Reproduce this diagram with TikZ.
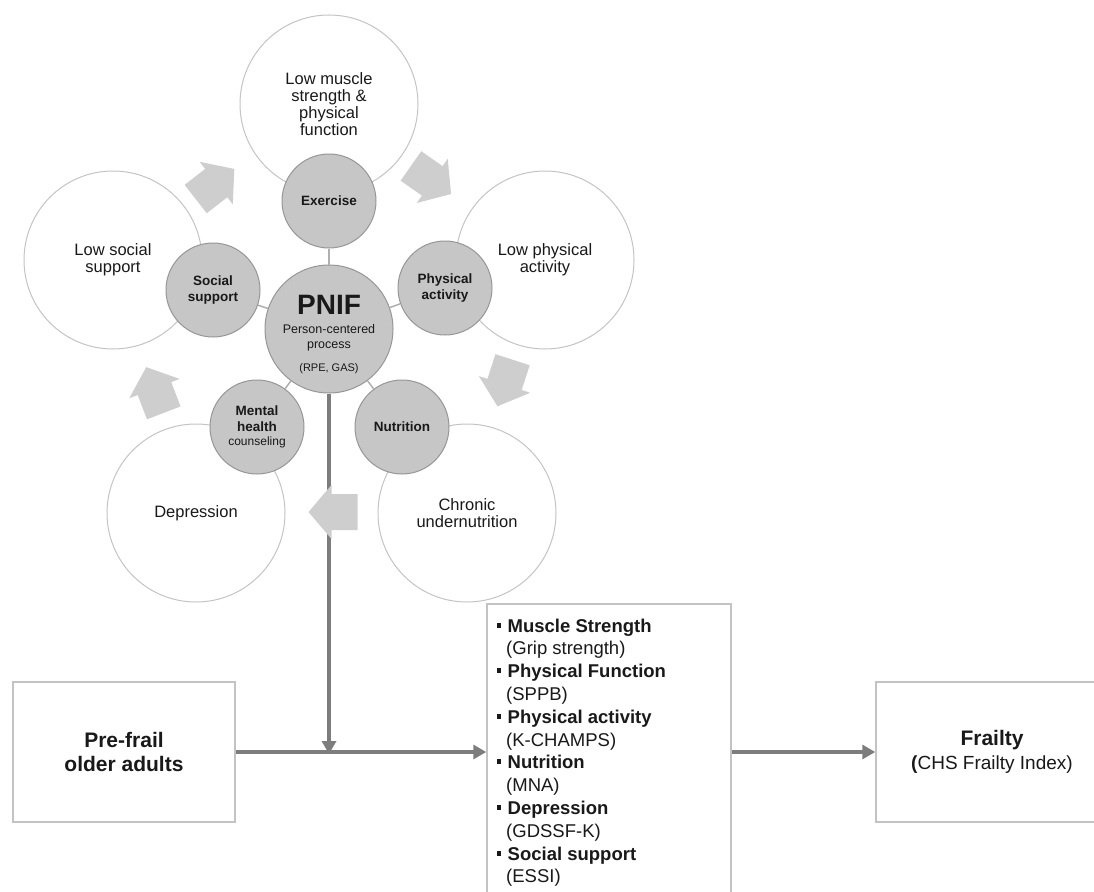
\documentclass[tikz,border=0pt]{standalone}
\usepackage{fontspec}
\setmainfont{Liberation Sans}
\usetikzlibrary{arrows.meta}
\definecolor{bigline}{RGB}{196,196,196}
\definecolor{smline}{RGB}{150,150,150}
\definecolor{smfill}{RGB}{198,198,198}
\definecolor{spokec}{RGB}{175,175,175}
\definecolor{flowc}{RGB}{125,125,125}
\definecolor{boxc}{RGB}{195,195,195}
\definecolor{blkc}{RGB}{206,206,206}
\definecolor{txt}{RGB}{25,25,25}
\tikzset{
  blockarrow/.pic={\fill[blkc] (-24.5,-18) -- (1.5,-18) -- (1.5,-27) -- (24.5,0) -- (1.5,27) -- (1.5,18) -- (-24.5,18) -- cycle;}
}
\newcommand{\sqbul}{\rule[4.5pt]{3.5pt}{5pt}\hspace{7pt}}
\begin{document}
\begin{tikzpicture}[x=1pt,y=-1pt,
  every node/.style={text=txt},
  bigc/.style={circle, draw=bigline, line width=1pt, fill=white, inner sep=0pt, minimum size=178pt, align=center, font=\fontsize{16.5}{17}\selectfont},
  smallc/.style={circle, draw=smline, line width=1pt, fill=smfill, inner sep=0pt, minimum size=94pt, align=center, font=\bfseries\fontsize{13.5}{15.5}\selectfont},
  spoke/.style={draw=spokec, line width=1.5pt},
  flow/.style={draw=flowc, line width=3.8pt, -{Triangle[length=13pt,width=14pt]}},
  box/.style={draw=boxc, line width=1.5pt, fill=white, inner sep=0pt, align=center},
  meastxt/.style={anchor=base west, inner sep=0pt, font=\fontsize{18.5}{22}\selectfont}
]
\useasboundingbox (0,0) rectangle (1094,891);

% big circles
\node[bigc] (lowmus) at (329,104) {Low muscle\\strength \&\\physical\\function};
\node[bigc] (lowpa) at (545,260) {Low physical\\activity};
\node[bigc] (lowsoc) at (113,260) {Low social\\support};
\node[bigc] (dep) at (196,513) {Depression};
\node[bigc] (chron) at (467,513) {Chronic\\undernutrition};

% centre and small circles
\node[circle, draw=smline, line width=1pt, fill=smfill, inner sep=0pt, minimum size=128pt] (pnif) at (329,329) {};
\node[smallc] (ex) at (329,201) {Exercise};
\node[smallc] (pa) at (445,288) {Physical\\activity};
\node[smallc] (ss) at (213,290) {Social\\support};
\node[smallc, font=\bfseries\fontsize{13.5}{16}\selectfont] (mh) at (257,427) {Mental\\health\\[-2pt]{\mdseries\fontsize{12}{13}\selectfont counseling}};
\node[smallc] (nu) at (402,427) {Nutrition};

\draw[spoke] (pnif) -- (ex);
\draw[spoke] (pnif) -- (pa);
\draw[spoke] (pnif) -- (ss);
\draw[spoke] (pnif) -- (mh);
\draw[spoke] (pnif) -- (nu);

\node[anchor=base, inner sep=0pt, font=\bfseries\fontsize{28}{30}\selectfont] (pniftitle) at (329,314) {PNIF};
\node[anchor=base, inner sep=0pt, font=\fontsize{12.5}{14}\selectfont] (pnifa) at (329,333) {Person-centered};
\node[anchor=base, inner sep=0pt, font=\fontsize{12.5}{14}\selectfont] (pnifb) at (329,348) {process};
\node[anchor=base, inner sep=0pt, font=\fontsize{11}{13}\selectfont] (pnifc) at (329,371) {(RPE, GAS)};

% boxes
\node[box, minimum width=222pt, minimum height=140pt, font=\bfseries\fontsize{21}{23.5}\selectfont] (pre) at (124,752) {Pre-frail\\older adults};
\node[box, minimum width=244pt, minimum height=296pt] (meas) at (609,752) {};
\node[box, minimum width=232pt, minimum height=140pt, font=\fontsize{19}{24}\selectfont] (fr) at (992,752) {{\bfseries\fontsize{21}{24}\selectfont Frailty}\\\textbf{(}CHS Frailty Index)};

% flow arrows
\coordinate (join) at (pnif.south |- pre.east);
\draw[flow] (pnif.south) -- ([yshift=-2pt]join);
\draw[flow] (pre.east) -- (pre.east -| meas.west);
\draw[flow] (meas.east |- pre.east) -- (fr.west);

% block arrows of the cycle
\pic[rotate=38] at (215,184) {blockarrow};
\pic[rotate=-35] at (431,180) {blockarrow};
\pic[rotate=-108] at (505,383) {blockarrow};
\pic[rotate=180] at (333,512) {blockarrow};
\pic[rotate=111] at (155,390) {blockarrow};

% measures text
\node[meastxt] (m1) at (497,632) {\sqbul\textbf{Muscle Strength}};
\node[meastxt] (m2) at (506,654.8) {(Grip strength)};
\node[meastxt] (m3) at (497,677.6) {\sqbul\textbf{Physical Function}};
\node[meastxt] (m4) at (506,700.4) {(SPPB)};
\node[meastxt] (m5) at (497,723.2) {\sqbul\textbf{Physical activity}};
\node[meastxt] (m6) at (506,746) {(K-CHAMPS)};
\node[meastxt] (m7) at (497,768.8) {\sqbul\textbf{Nutrition}};
\node[meastxt] (m8) at (506,791.6) {(MNA)};
\node[meastxt] (m9) at (497,814.4) {\sqbul\textbf{Depression}};
\node[meastxt] (m10) at (506,837.2) {(GDSSF-K)};
\node[meastxt] (m11) at (497,860) {\sqbul\textbf{Social support}};
\node[meastxt] (m12) at (506,882.8) {(ESSI)};
\end{tikzpicture}
\end{document}
